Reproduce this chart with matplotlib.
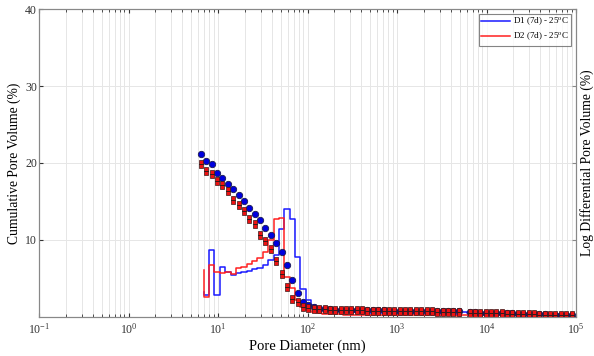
import numpy as np
import matplotlib
matplotlib.use("Agg")
import matplotlib.pyplot as plt
from matplotlib.path import Path

plt.rcParams["font.family"] = ["Liberation Serif", "DejaVu Serif"]
plt.rcParams["mathtext.fontset"] = "stix"

# pore diameter of each measured point (nm)
diam = [6.457, 7.413, 8.511, 9.772, 11.22, 12.88, 14.79, 16.98, 19.50, 22.39,
        25.70, 29.51, 33.88, 38.90, 44.67, 51.29, 58.88, 67.61, 77.62, 89.13,
        102.3, 117.5, 134.9, 154.9, 177.8, 204.2, 234.4, 269.2, 309.0, 354.8,
        407.4, 467.7, 537.0, 616.6, 707.9, 812.8, 933.3, 1072, 1230, 1413,
        1622, 1862, 2138, 2455, 2818, 3236, 3715, 4266, 4898, 5623,
        6457, 7413, 8511, 9772, 11220, 12880, 14790, 16980, 19500, 22390,
        25700, 29510, 33880, 38900, 44670, 51290, 58880, 67610, 77620, 89130]

# cumulative pore volume (%)
cum_d1 = [21.2, 20.3, 19.9, 18.7, 18.1, 17.3, 16.6, 15.8, 15.0, 14.2,
          13.4, 12.6, 11.6, 10.6, 9.6, 8.4, 6.8, 4.8, 3.1, 1.95,
          1.5, 1.25, 1.1, 1.05, 1.0, 0.97, 0.95, 0.93, 0.92, 0.9,
          0.89, 0.88, 0.87, 0.86, 0.85, 0.84, 0.83, 0.82, 0.81, 0.8,
          0.79, 0.78, 0.77, 0.76, 0.75, 0.75, 0.74, 0.73, 0.72, np.nan,
          0.62, 0.6, 0.58, 0.56, 0.54, 0.52, 0.5, 0.48, 0.46, 0.44,
          0.42, 0.4, 0.38, 0.36, 0.34, 0.32, 0.3, 0.28, 0.27, 0.25]
cum_d2 = [19.85, 19.0, 18.6, 17.7, 17.1, 16.3, 15.2, 14.5, 13.8, 12.7,
          12.1, 10.6, 9.9, 8.8, 7.3, 5.6, 3.9, 2.4, 1.95, 1.25,
          1.15, 1.1, 1.05, 1.0, 0.95, 0.92, 0.9, 0.88, 0.87, 0.86,
          0.85, 0.84, 0.83, 0.82, 0.81, 0.8, 0.79, 0.78, 0.77, 0.76,
          0.75, 0.74, 0.73, 0.72, 0.71, 0.7, 0.69, 0.68, 0.67, np.nan,
          0.58, 0.56, 0.54, 0.52, 0.5, 0.48, 0.46, 0.44, 0.42, 0.4,
          0.38, 0.36, 0.34, 0.32, 0.3, 0.28, 0.26, 0.25, 0.24, 0.22]

# log differential pore volume (%) per bin
diff_d1 = [3.3, 2.9, 8.7, 2.9, 6.5, 5.9, 5.5, 5.75, 5.9, 6.0,
           6.2, 6.35, 6.8, 7.4, 8.1, 11.4, 14.0, 12.7, 7.8, 3.6,
           2.2, 1.6, 1.3, 1.1, 0.95, 0.85, 0.75, 0.7, 0.65, 0.6,
           0.58, 0.56, 0.54, 0.52, 0.5, 0.5, 0.48, 0.47, 0.46, 0.45,
           0.45, 0.44, 0.43, 0.42, 0.42, 0.41, 0.4, 0.4, 0.2, 0.7,
           0.5, 0.48, 0.47, 0.46, 0.45, 0.44, 0.43, 0.42, 0.41, 0.4,
           0.4, 0.39, 0.38, 0.37, 0.36, 0.35, 0.34, 0.33, 0.32]
diff_d2 = [6.1, 2.65, 6.75, 5.9, 5.65, 5.8, 5.6, 6.3, 6.5, 6.9,
           7.3, 7.6, 8.4, 10.0, 12.7, 12.9, 5.2, 3.7, 2.2, 1.35,
           0.9, 0.7, 0.55, 0.45, 0.4, 0.36, 0.33, 0.3, 0.3, 0.28,
           0.28, 0.27, 0.27, 0.26, 0.26, 0.25, 0.25, 0.25, 0.24, 0.24,
           0.24, 0.23, 0.23, 0.23, 0.22, 0.22, 0.22, 0.21, 0.1, 0.3,
           0.25, 0.25, 0.24, 0.24, 0.24, 0.23, 0.23, 0.23, 0.22, 0.22,
           0.22, 0.21, 0.21, 0.21, 0.2, 0.2, 0.2, 0.2, 0.2]

labels = ["D1 (7d) - 25$^{\\rm o}$C", "D2 (7d) - 25$^{\\rm o}$C"]

d = np.array(diam)
edges = np.sqrt(d[:-1] * d[1:])  # bin boundaries between measured diameters

# two stacked squares, the way the red markers look
sq2 = Path([(-0.5, 0.08), (0.5, 0.08), (0.5, 1.08), (-0.5, 1.08), (-0.5, 0.08),
            (-0.5, -1.08), (0.5, -1.08), (0.5, -0.08), (-0.5, -0.08), (-0.5, -1.08)],
           [Path.MOVETO, Path.LINETO, Path.LINETO, Path.LINETO, Path.CLOSEPOLY,
            Path.MOVETO, Path.LINETO, Path.LINETO, Path.LINETO, Path.CLOSEPOLY])

fig = plt.figure(figsize=(5.94, 3.56), dpi=100)
ax = fig.add_axes([0.0657, 0.1096, 0.904, 0.8651])

ax.plot(edges, diff_d1, drawstyle="steps-pre", color="#1a1aff", lw=1.1, label=labels[0], zorder=2)
ax.plot(edges, diff_d2, drawstyle="steps-pre", color="#ff2020", lw=1.1, label=labels[1], zorder=2)
ax.plot(diam, cum_d1, "o", ls="none", ms=4.6, mfc="#0000dd", mec="#1a1a50", mew=0.6, zorder=3)
ax.plot(diam, cum_d2, marker=sq2, ls="none", ms=6.2, mfc="#ee1111", mec="#3a1a1a", mew=0.5, zorder=4)

ax.set_xscale("log")
ax.set_xlim(0.1, 1e5)
ax.set_ylim(0, 40)
ax.set_yticks([10, 20, 30, 40])
ax.grid(True, which="both", color="#e6e6e6", lw=0.7)
ax.set_axisbelow(True)
ax.tick_params(which="both", direction="in", top=True, labelsize=8.5, colors="#333333")
ax.tick_params(axis="y", pad=1.5)
ax.tick_params(which="major", length=3)
ax.tick_params(which="minor", length=2)
for s in ax.spines.values():
    s.set_color("#888888")
ax.set_xlabel("Pore Diameter (nm)", fontsize=10.5, labelpad=2)
ax.set_ylabel("Cumulative Pore Volume (%)", fontsize=9.8)
ax.yaxis.set_label_coords(-0.033, 0.5)

ax2 = ax.twinx()
ax2.set_ylim(0, 40)
ax2.set_yticks([10, 20, 30, 40])
ax2.tick_params(direction="in", length=3, labelright=False, colors="#888888")
ax2.set_ylabel("Log Differential Pore Volume (%)", fontsize=9.8, rotation=90)
ax2.yaxis.set_label_coords(1.008, 0.5)
for s in ax2.spines.values():
    s.set_color("#888888")

leg = ax.legend(loc="upper right", fontsize=6.5, frameon=True, fancybox=False,
                edgecolor="#666666", handlelength=3.2, borderpad=0.3, labelspacing=0.3,
                handletextpad=0.3, borderaxespad=0.5)
leg.get_frame().set_linewidth(0.8)

fig.savefig("out.png", dpi=100)
